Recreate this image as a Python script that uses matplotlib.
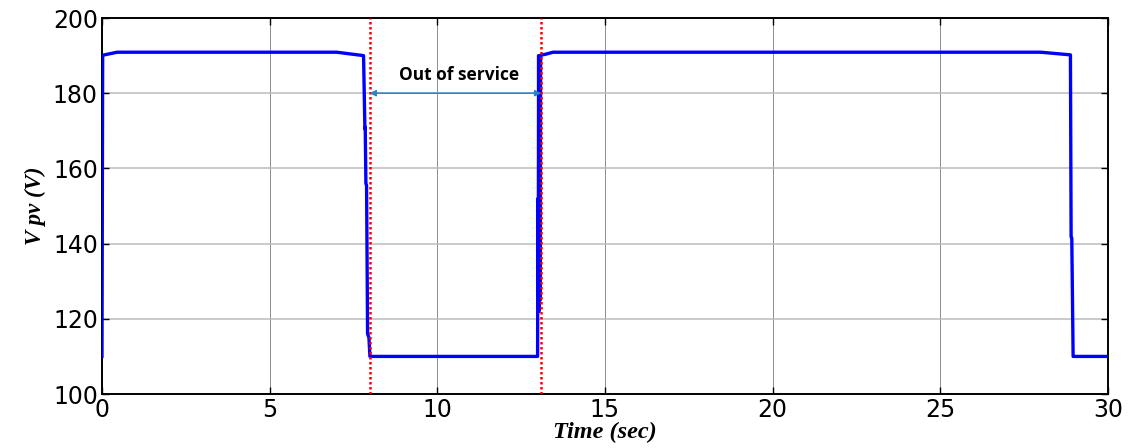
import numpy as np
import matplotlib
matplotlib.use("Agg")
import matplotlib.pyplot as plt

# ---- data ----
t_sec = [0.0, 0.02, 0.45, 7.0, 7.80, 7.84, 7.85, 7.87, 7.89, 7.92, 7.96, 7.99,
         12.97, 12.99, 13.00, 13.01, 13.02, 13.03, 13.04, 13.05, 13.06, 13.07,
         13.08, 13.10, 13.20, 13.45, 28.0, 28.88, 28.90, 28.92, 28.96, 30.0]
v_pv = [110.0, 190.1, 190.9, 190.9, 190.0, 170.5, 171.0, 156.0, 155.5, 116.0, 115.0, 110.0,
        110.0, 110.0, 152.0, 124.0, 190.0, 122.0, 189.5, 153.0, 190.0, 125.0,
        190.0, 190.2, 190.3, 190.9, 190.9, 190.2, 141.8, 141.5, 110.0, 110.0]

fault_start = 7.98
fault_end = 13.1
arrow_level = 180
label_pos = (10.66, 184.8)

xticks = [0, 5, 10, 15, 20, 25, 30]
yticks = [100, 120, 140, 160, 180, 200]

fig = plt.figure(figsize=(11.32, 4.48), dpi=100)
ax = fig.add_axes([0.0901, 0.1205, 0.8887, 0.8393])

# MATLAB-ish grid: vertical lines darker & thinner than horizontal ones
ax.xaxis.grid(True, color='#8c8c8c', lw=0.7)
ax.yaxis.grid(True, color='#bcbcbc', lw=1.1)
ax.set_axisbelow(True)

ax.plot(t_sec, v_pv, color='#0000ff', lw=2.4, zorder=3)

# fault markers
for xv in (fault_start, fault_end):
    ax.axvline(xv, color='#ff0000', ls=(0, (1, 1)), lw=1.8, zorder=4)

ax.annotate('', xy=(fault_start, arrow_level), xytext=(fault_end, arrow_level),
            arrowprops=dict(arrowstyle='<|-|>', color='#2b83c6', lw=1.1,
                            mutation_scale=9, shrinkA=0, shrinkB=0), zorder=5)
ax.text(label_pos[0], label_pos[1], 'Out of service', ha='center', va='center',
        fontsize=12.5, fontweight='bold', family='Open Sans')

ax.set_xlim(0, 30)
ax.set_ylim(100, 200)
ax.set_xticks(xticks)
ax.set_yticks(yticks)
ax.tick_params(direction='in', length=5, width=1, top=True, right=True,
               labelsize=17, pad=3)
for lab in ax.get_xticklabels() + ax.get_yticklabels():
    lab.set_family('DejaVu Sans')
for s in ax.spines.values():
    s.set_linewidth(1.4)

ax.set_xlabel('Time (sec)', family='Liberation Serif', fontsize=17.5,
              fontweight='bold', style='italic', labelpad=0)
ax.set_ylabel('V pv (V)', family='Liberation Serif', fontsize=16.5,
              fontweight='bold', style='italic', labelpad=5)

fig.savefig('out.png', dpi=100)
